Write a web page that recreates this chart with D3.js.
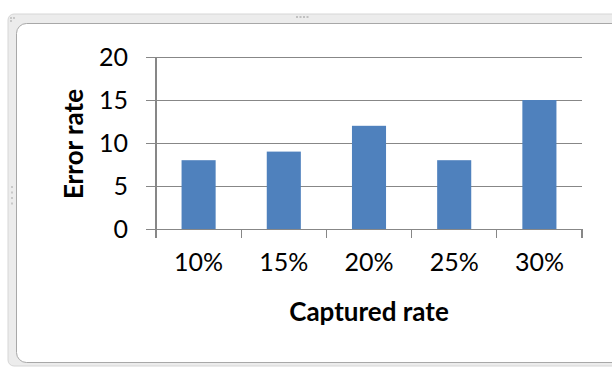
<!DOCTYPE html>
<html>
<head>
<meta charset="utf-8">
<script src="https://cdn.jsdelivr.net/npm/d3@7"></script>
<style>
  html, body { margin: 0; padding: 0; background: #fff; }
  svg { display: block; }
  text { font-family: Lato, "Open Sans", sans-serif; fill: #000; }
</style>
</head>
<body>
<script>
// Chart data
const categories = ["10%", "15%", "20%", "25%", "30%"];
const errorRates = [8, 9, 12, 8, 15];
const yTicks = [0, 5, 10, 15, 20];
const xTitle = "Captured rate";
const yTitle = "Error rate";

const W = 612, H = 367;
const svg = d3.select("body").append("svg").attr("width", W).attr("height", H);

// Outer window frame
svg.append("rect").attr("x", 8).attr("y", 14).attr("width", 620).attr("height", 352)
  .attr("rx", 6).attr("fill", "#ececec").attr("stroke", "#d6d6d6");
svg.append("rect").attr("x", 16.5).attr("y", 23.5).attr("width", 610).attr("height", 339)
  .attr("rx", 10).attr("fill", "#fff").attr("stroke", "#a8a8a8");
// grip dots
[[10, 17], [13, 17], [10, 20]].forEach(([x, y]) =>
  svg.append("rect").attr("x", x).attr("y", y).attr("width", 2).attr("height", 2).attr("fill", "#c8c8c8"));
d3.range(4).forEach(i => {
  svg.append("rect").attr("x", 296 + i * 3.5).attr("y", 16).attr("width", 2).attr("height", 2).attr("fill", "#c0c0c0");
  svg.append("rect").attr("x", 11).attr("y", 186 + i * 5.5).attr("width", 2).attr("height", 2).attr("fill", "#c8c8c8");
});

// Plot area
const plot = { left: 156, right: 582, top: 57, bottom: 229 };
const x = d3.scaleBand().domain(categories).range([plot.left, plot.right]).paddingInner(0.6).paddingOuter(0.3);
const xOuter = d3.scaleBand().domain(categories).range([plot.left, plot.right]);
const y = d3.scaleLinear().domain([0, 20]).range([plot.bottom, plot.top]);

const g = svg.append("g");

// horizontal gridlines with outward tick marks
const yAxis = d3.axisLeft(y).tickValues(yTicks).tickSize(plot.right - plot.left + 10).tickFormat(d => d);
const ya = g.append("g").attr("transform", `translate(${plot.right},0)`).call(yAxis);
ya.select(".domain").remove();
ya.selectAll(".tick line").attr("stroke", "#878787").attr("stroke-width", 1.2).attr("shape-rendering", "crispEdges");
ya.selectAll(".tick text").attr("x", -(plot.right - 128)).attr("font-size", 25).attr("fill", "#000")
  .attr("font-family", "Lato, 'Open Sans', sans-serif").attr("dy", "0.34em");

// bars
g.append("g").selectAll("rect").data(errorRates).join("rect")
  .attr("x", (d, i) => x(categories[i]))
  .attr("width", x.bandwidth())
  .attr("y", d => y(d))
  .attr("height", d => y(0) - y(d))
  .attr("fill", "#4f81bd");

// vertical axis line
g.append("line").attr("x1", plot.left).attr("x2", plot.left).attr("y1", plot.top).attr("y2", plot.bottom)
  .attr("stroke", "#878787").attr("stroke-width", 1.2).attr("shape-rendering", "crispEdges");

// category axis
const xa = g.append("g").attr("transform", `translate(0,${plot.bottom})`)
  .call(d3.axisBottom(xOuter).tickSize(0).tickSizeOuter(0));
xa.select(".domain").remove();
xa.selectAll(".tick text").attr("font-size", 25).attr("fill", "#000").attr("y", 42).attr("dy", 0)
  .attr("font-family", "Lato, 'Open Sans', sans-serif");
const boundaries = categories.map(c => xOuter(c)).concat([plot.right]);
g.append("g").selectAll("line").data(boundaries).join("line")
  .attr("x1", d => d).attr("x2", d => d).attr("y1", plot.bottom).attr("y2", plot.bottom + 9)
  .attr("stroke", "#878787").attr("stroke-width", 1.2).attr("shape-rendering", "crispEdges");

// axis titles
svg.append("text").attr("x", 369).attr("y", 321).attr("text-anchor", "middle")
  .attr("font-size", 26).attr("font-weight", "bold").text(xTitle);
svg.append("text").attr("transform", "translate(83,144) rotate(-90)").attr("text-anchor", "middle")
  .attr("font-size", 26).attr("font-weight", "bold").text(yTitle);
</script>
</body>
</html>
